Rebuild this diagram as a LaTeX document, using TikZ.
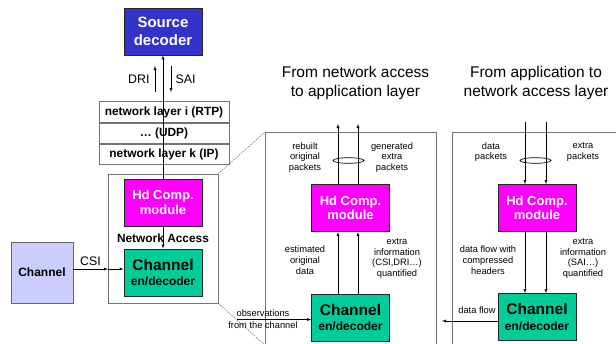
\documentclass[tikz,border=0pt]{standalone}
\usepackage{fontspec}
\setmainfont{Liberation Sans}
\usetikzlibrary{positioning}
\definecolor{srcblue}{RGB}{51,51,204}
\definecolor{hdpink}{RGB}{255,0,255}
\definecolor{chgreen}{RGB}{0,204,153}
\definecolor{chanlav}{RGB}{204,204,255}

\begin{document}
\begin{tikzpicture} [
   x=1pt, y=-1pt, >=latex,
   box/.style={draw=black!85, line width=0.8pt, minimum width=78pt, minimum height=47pt,
               inner sep=0pt, align=center},
   src/.style={box, fill=srcblue, text=white, font=\fontsize{15}{18.5}\selectfont\bfseries},
   hd/.style={box, fill=hdpink, text=white, font=\fontsize{13}{14.5}\selectfont\bfseries},
   codec/.style={box, fill=chgreen, font=\fontsize{12}{16}\selectfont\bfseries},
   layer/.style={draw=black!55, line width=0.7pt, minimum width=130pt, minimum height=20.5pt,
                 inner sep=0pt, font=\fontsize{11.9}{13}\selectfont\bfseries},
   panel/.style={draw=black!55, line width=0.9pt},
   lbl/.style={align=center, inner sep=0pt, font=\fontsize{9.3}{10.8}\selectfont},
   title/.style={align=center, font=\fontsize{15.5}{19}\selectfont}
]
   \useasboundingbox (0,0) rectangle (616,343);
   \clip (0,0) rectangle (616,343);

   % left: protocol stack
   \node (srcdec) [src] at (163,31.5) {Source\\decoder};
   \node (lay1) [layer] at (164,112) {network layer i (RTP)};
   \node (lay2) [layer, below=0pt of lay1] {… (UDP)};
   \node (lay3) [layer, below=0pt of lay2] {network layer k (IP)};
   \node (netacc) [panel, draw, minimum width=110pt, minimum height=129pt, inner sep=0pt] at (163,238.5) {};
   \node (hdL) [hd] at (163,202.5) {Hd Comp.\\module};
   \node (chL) [codec] at (163,272.5) {{\fontsize{15.5}{16}\selectfont Channel}\\en/decoder};
   \node (netlbl) [inner sep=0pt, font=\fontsize{11.9}{13}\selectfont\bfseries] at (163,238) {Network Access};
   \node (chan) [draw=black!60, line width=0.8pt, fill=chanlav, minimum width=62pt, minimum height=61pt,
                 font=\fontsize{12}{14}\selectfont\bfseries] at (42,272.5) {Channel};

   \coordinate (driA) at (155,92);
   \coordinate (driB) at (155,66);
   \coordinate (saiA) at (171,66);
   \coordinate (saiB) at (171,92);
   \coordinate (csiA) at (73,269);
   \coordinate (csiB) at (108,269);
   \draw [->] (hdL) -- (srcdec);
   \draw [->] (driA) -- (driB) node [midway, left=2pt, font=\fontsize{12.4}{14}\selectfont] {DRI};
   \draw [->] (saiA) -- (saiB) node [midway, right=1pt, font=\fontsize{12.4}{14}\selectfont] {SAI};
   \draw [->] (hdL) -- (chL);
   \draw [->] (csiA) -- (csiB) node [midway, above=0pt, font=\fontsize{12.4}{14}\selectfont] {CSI};
   \draw [->] (csiB) -- (chL.west |- csiB);

   % zoom lines
   \coordinate (mpTL) at (265,132);
   \coordinate (mpBL) at (265,345);
   \draw [black!70, dash pattern=on 1.5pt off 1pt, line width=0.4pt] (netacc.north east) -- (mpTL);
   \draw [black!70, dash pattern=on 1.5pt off 1pt, line width=0.4pt] (netacc.south east) -- (mpBL);

   % middle: network access -> application
   \draw [panel] (265,350) -- (mpTL) -- (436,132) -- (436,350);
   \node (titM) [title] at (355.5,82.5) {From network access\\to application layer};
   \node (hdM) [hd] at (350.5,208) {Hd Comp.\\module};
   \node (chM) [codec] at (350.5,317.5) {{\fontsize{15.5}{16}\selectfont Channel}\\en/decoder};
   \coordinate (mOut1) at (338,124);
   \coordinate (mOut2) at (358,124);
   \draw [->] (hdM.north -| mOut1) -- (mOut1);
   \draw [->] (hdM.north -| mOut2) -- (mOut2);
   \draw [line width=0.7pt] (348.5,160.5) ellipse (15.5 and 2.8);
   \node (rebuilt) [lbl] at (305,157.5) {rebuilt\\original\\packets};
   \node (generated) [lbl] at (392,157.5) {generated\\extra\\packets};
   \draw [->] (chM.north -| mOut1) -- (hdM.south -| mOut1);
   \draw [->] (chM.north -| mOut2) -- (hdM.south -| mOut2);
   \node (estim) [lbl] at (305,260) {estimated\\original\\data};
   \node (extraM) [lbl] at (397,258.5) {extra\\information\\(CSI,DRI…)\\quantified};
   \coordinate (obsIn) at (237,319.5);
   \draw [->] (obsIn) -- (chM.west |- obsIn);
   \node (obs) [lbl, font=\fontsize{9.3}{11.5}\selectfont] at (263,319) {observations\\from the channel};

   % right: application -> network access
   \draw [panel] (452,350) -- (452,132) -- (630,132);
   \node (titR) [title] at (536,82.5) {From application to\\network access layer};
   \node (hdR) [hd] at (537,208) {Hd Comp.\\module};
   \node (chR) [codec] at (537,317) {{\fontsize{15.5}{16}\selectfont Channel}\\en/decoder};
   \coordinate (rIn1) at (525,122);
   \coordinate (rIn2) at (546,122);
   \draw [->] (rIn1) -- (hdR.north -| rIn1);
   \draw [->] (rIn2) -- (hdR.north -| rIn2);
   \draw [line width=0.7pt] (535.5,160.5) ellipse (15.5 and 2.8);
   \node (datapk) [lbl] at (491,152) {data\\packets};
   \node (extrapk) [lbl] at (583,152) {extra\\packets};
   \draw [->] (hdR.south -| rIn1) -- (chR.north -| rIn1);
   \draw [->] (hdR.south -| rIn2) -- (chR.north -| rIn2);
   \node (dflow) [lbl] at (488,260) {data flow with\\compressed\\headers};
   \node (extraR) [lbl] at (583,258.5) {extra\\information\\(SAI…)\\quantified};
   \coordinate (dfOut) at (442,321);
   \draw [->] (chR.west |- dfOut) -- (dfOut);
   \node (dflbl) [lbl] at (477,310) {data flow};
\end{tikzpicture}
\end{document}
